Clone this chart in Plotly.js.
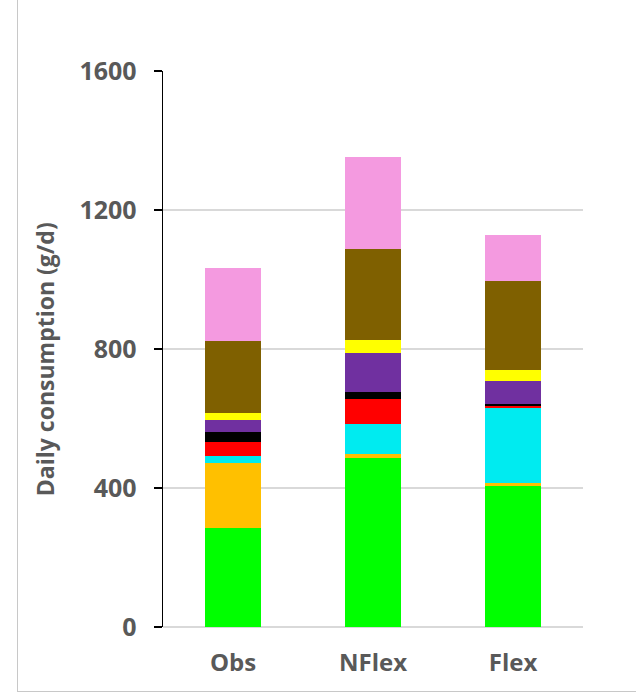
<!DOCTYPE html>
<html>
<head>
<meta charset="utf-8">
<script src="https://cdn.plot.ly/plotly-3.0.1.min.js"></script>
<style>
  html, body { margin: 0; padding: 0; background: #ffffff; overflow: hidden; scrollbar-width: none; }
  ::-webkit-scrollbar { display: none; width: 0; height: 0; }
  #wrap { position: relative; width: 636px; height: 694px; overflow: hidden; }
  #chart { position: absolute; left: 0; top: 0; width: 636px; height: 694px; }
  #frame { position: absolute; left: 17px; top: -10px; width: 700px; height: 701px;
           border-left: 1.5px solid #C8C8C8; border-bottom: 1.5px solid #C8C8C8; pointer-events: none; }
</style>
</head>
<body>
<div id="wrap">
  <div id="chart"></div>
  <div id="frame"></div>
</div>
<script>
// Categories
var categories = ["Obs", "NFlex", "Flex"];

// Stacked series (bottom to top), values in g/d
var seriesGreen  = [286, 487, 406];
var seriesOrange = [186, 11, 9];
var seriesCyan   = [19, 85, 216];
var seriesRed    = [42, 72, 6];
var seriesBlack  = [29, 22, 4];
var seriesPurple = [33, 111, 68];
var seriesYellow = [21, 39, 31];
var seriesBrown  = [207, 261, 256];
var seriesPink   = [209, 264, 133];

var seriesNames  = ["Series 1", "Series 2", "Series 3", "Series 4", "Series 5", "Series 6", "Series 7", "Series 8", "Series 9"];
var yTickValues  = [0, 400, 800, 1200, 1600];
var yTitle = "Daily consumption (g/d)";

var seriesData = [seriesGreen, seriesOrange, seriesCyan, seriesRed, seriesBlack,
                  seriesPurple, seriesYellow, seriesBrown, seriesPink];
var seriesColors = ["#00FF00", "#FFC000", "#00EBF0", "#FF0000", "#000000",
                    "#7030A0", "#FFFF00", "#7F6000", "#F49AE0"];

var traces = seriesData.map(function (vals, i) {
  return {
    type: "bar",
    name: seriesNames[i],
    x: categories,
    y: vals,
    marker: { color: seriesColors[i], line: { width: 0 } },
    hoverinfo: "x+y+name"
  };
});

var fontFam = "'Open Sans', 'DejaVu Sans', sans-serif";
var txtColor = "#595959";

var layout = {
  width: 636,
  height: 694,
  barmode: "stack",
  bargap: 0.6,
  showlegend: false,
  paper_bgcolor: "#ffffff",
  plot_bgcolor: "#ffffff",
  margin: { l: 163, r: 53, t: 71, b: 67, pad: 0 },
  font: { family: fontFam, color: txtColor },
  xaxis: {
    type: "category",
    showgrid: false,
    showline: false,
    zeroline: false,
    ticks: "",
    tickfont: { family: fontFam, size: 24, color: txtColor, weight: "bold" },
    ticklabelstandoff: 19
  },
  yaxis: {
    range: [0, 1600],
    tickvals: yTickValues,
    ticktext: yTickValues.map(String),
    showgrid: true,
    gridcolor: "#D9D9D9",
    gridwidth: 1.3,
    zeroline: true,
    zerolinecolor: "#D9D9D9",
    zerolinewidth: 1.3,
    showline: true,
    linecolor: "#000000",
    linewidth: 1.4,
    ticks: "outside",
    ticklen: 8,
    tickwidth: 1.4,
    tickcolor: "#000000",
    tickfont: { family: fontFam, size: 25, color: txtColor, weight: "bold" },
    ticklabelstandoff: 12,
    fixedrange: true
  },
  annotations: [{
    text: "<b>" + yTitle + "</b>",
    xref: "paper", yref: "paper",
    x: (45 - 163) / 420.6,
    y: (627 - 359) / 556,
    xanchor: "center", yanchor: "middle",
    textangle: -90,
    showarrow: false,
    font: { family: fontFam, size: 23, color: txtColor }
  }]
};

Plotly.newPlot("chart", traces, layout, { displayModeBar: false, staticPlot: true });
</script>
</body>
</html>
